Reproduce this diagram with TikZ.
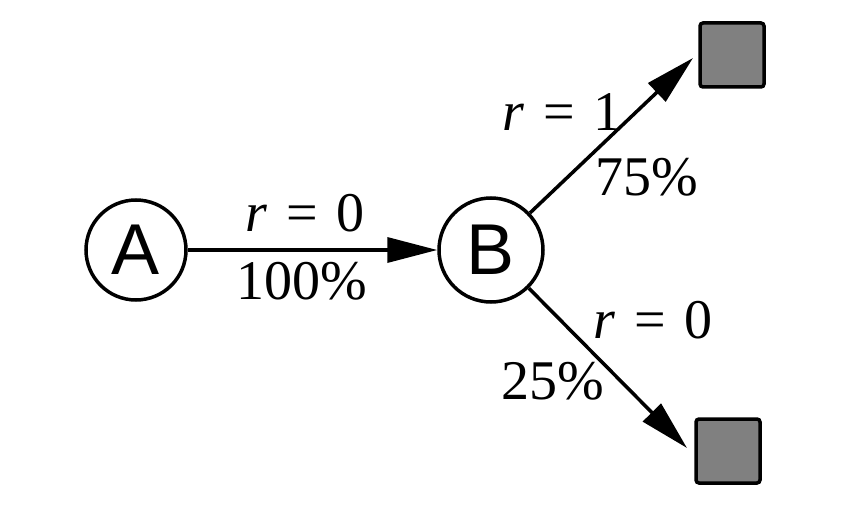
\documentclass[tikz,border=0pt]{standalone}
\usepackage{fontspec}
\setmainfont{Liberation Serif}
\newfontfamily\helv{Liberation Sans}
\usetikzlibrary{arrows.meta}
\newcommand{\req}[1]{\textit{r}\hspace{0.34em}=\hspace{0.34em}#1}
\begin{document}
\begin{tikzpicture}[x=1pt,y=-1pt,
  state/.style={circle,draw,line width=3.5pt,inner sep=0pt,font=\helv\fontsize{72}{72}\selectfont},
  term/.style={draw,line width=3.5pt,fill={rgb,255:red,128;green,128;blue,128},rounded corners=3pt,minimum size=64pt,inner sep=0pt},
  conn/.style={line width=3.5pt,-{Triangle[length=50pt,width=25pt]}},
  lab/.style={font=\fontsize{56}{60}\selectfont,inner sep=0pt}]
\useasboundingbox (0,0) rectangle (862,508);
\node[state,minimum size=100pt] (A) at (136,250) {A};
\node[state,minimum size=104pt] (B) at (491,250) {B};
\node[term] (s1) at (732,55) {};
\node[term] (s2) at (728,451) {};
\coordinate (t1) at (693,58);
\coordinate (t2) at (687,448);
\draw[conn] (A) -- (B);
\draw[conn] (B) -- (t1);
\draw[conn] (B) -- (t2);
\node[lab] (l1) at (305,213) {\req{0}};
\node[lab] (l2) at (302,281) {100\%};
\node[lab] (l3) at (562,112) {\req{1}};
\node[lab] (l4) at (647,177) {75\%};
\node[lab] (l5) at (653,320) {\req{0}};
\node[lab] (l6) at (553,381) {25\%};
\end{tikzpicture}
\end{document}
